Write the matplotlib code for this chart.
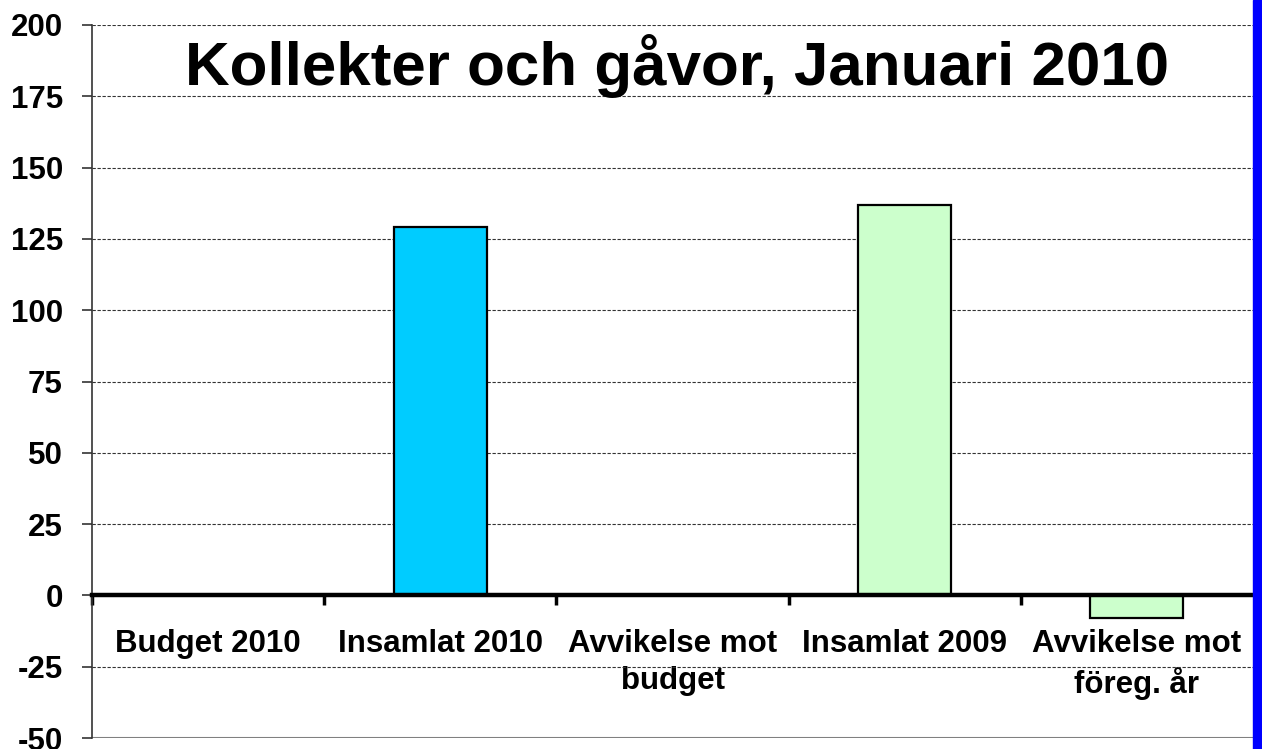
import matplotlib.pyplot as plt
from matplotlib.patches import Rectangle

plt.rcParams['font.family'] = ['Liberation Sans', 'DejaVu Sans']

categories = ["Budget 2010", "Insamlat 2010", "Avvikelse mot\nbudget",
              "Insamlat 2009", "Avvikelse mot\nföreg. år"]
values = [0, 129, 0, 137, -8]
colors = ["#00CCFF", "#00CCFF", "#00CCFF", "#CCFFCC", "#CCFFCC"]
yticks = [-50, -25, 0, 25, 50, 75, 100, 125, 150, 175, 200]

fig = plt.figure(figsize=(12.62, 7.49), dpi=100)
ax = fig.add_axes([92 / 1262, 11 / 749, 1161 / 1262, 713 / 749])

x = list(range(len(categories)))
ax.bar(x, values, width=0.4, color=colors, edgecolor="black", linewidth=1.6, zorder=3)

ax.set_xlim(-0.5, len(categories) - 0.5)
ax.set_ylim(-50, 200)
ax.set_yticks(yticks)
ax.set_yticklabels([str(v) for v in yticks], fontsize=22.5, fontweight="bold")
ax.tick_params(axis="y", length=7, width=1.2, color="#333333", pad=14)

# dashed gridlines
ax.yaxis.grid(True, linestyle=(0, (3, 1.5)), color="#333333", linewidth=0.8, zorder=0)
ax.axhline(-50, color="#808080", linewidth=1.5, zorder=2)

# zero line with category ticks
for s in ["top", "right"]:
    ax.spines[s].set_visible(False)
ax.spines["left"].set_color("#333333")
ax.spines["left"].set_linewidth(1.2)
ax.spines["bottom"].set_position(("data", 0))
ax.spines["bottom"].set_linewidth(3.2)
ax.spines["bottom"].set_color("black")
ax.spines["bottom"].set_zorder(4)

ax.set_xticks([i - 0.5 for i in x])
ax.set_xticklabels([])
ax.tick_params(axis="x", which="major", length=7, width=2.5, color="black")
ax.set_xticks(x, minor=True)
ax.set_xticklabels(categories, minor=True, fontsize=22.5, fontweight="bold",
                   linespacing=1.3)
ax.tick_params(axis="x", which="minor", length=0, pad=24)

ax.text(0.5043, 0.942, "Kollekter och gåvor, Januari 2010", transform=ax.transAxes,
        ha="center", va="center", fontsize=44.6, fontweight="bold", zorder=5)

fig.patches.append(Rectangle((1253 / 1262, 0), 9 / 1262, 1, transform=fig.transFigure,
                             color="#0000FF", zorder=10))

fig.savefig("out.png", dpi=100)
